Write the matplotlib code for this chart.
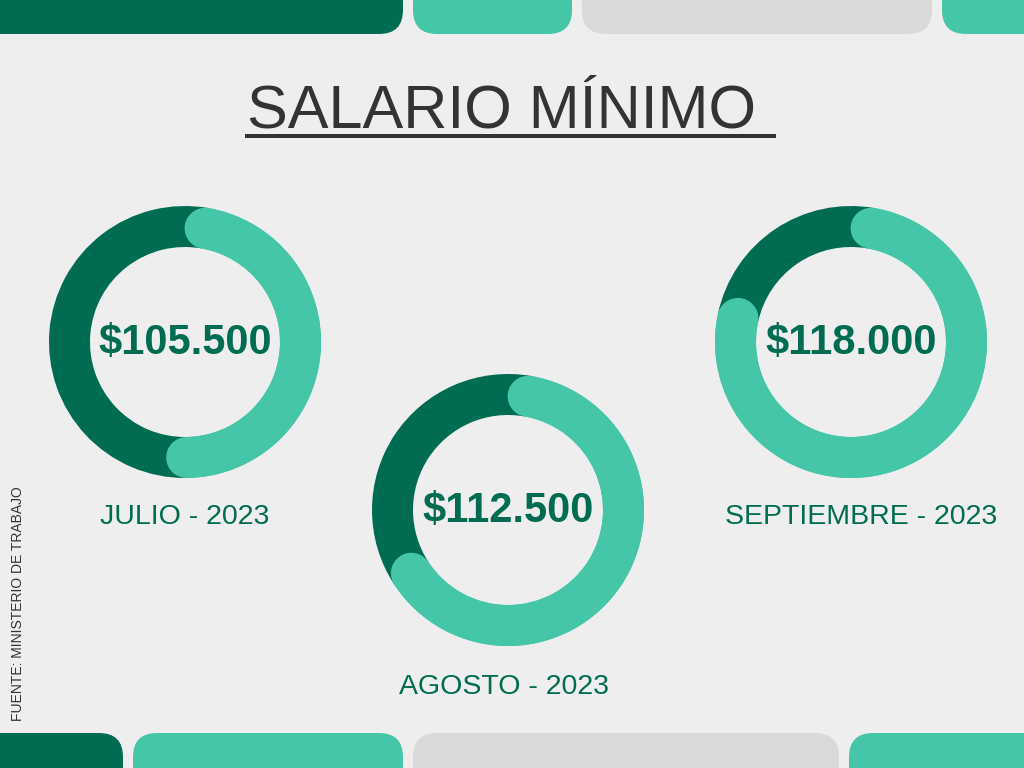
import numpy as np
import matplotlib.pyplot as plt
from matplotlib.patches import FancyBboxPatch, Rectangle

# data
months = ["JULIO - 2023", "AGOSTO - 2023", "SEPTIEMBRE - 2023"]
salaries = [105500, 112500, 118000]
shares = [0.47, 0.63, 0.755]   # share of the light ring (between cap centres)
source = "FUENTE: MINISTERIO DE TRABAJO"
title = "SALARIO MÍNIMO"

dark = "#006C52"
teal = "#45C6A9"
grey = "#D9D9D9"
bg = "#EEEEEE"
ink = "#333333"

W, H = 1024, 768
centers = [(185, 342), (508, 510), (851, 342)]
label_y = [524, 694, 524]
label_x = [185, 504, 861]
R, RW = 136, 41
start = 80

fig = plt.figure(figsize=(W / 100, H / 100), dpi=100, facecolor=bg)
ax = fig.add_axes([0, 0, 1, 1])
ax.set_xlim(0, W)
ax.set_ylim(H, 0)
ax.axis("off")

# decorative bars (top and bottom)
top_bars = [(-60, 403, dark), (413, 572, teal), (582, 932, grey), (942, 1100, teal)]
bottom_bars = [(-60, 123, dark), (133, 403, teal), (413, 839, grey), (849, 1100, teal)]
for x0, x1, c in top_bars:
    ax.add_patch(FancyBboxPatch((x0, -60), x1 - x0, 94, boxstyle="round,pad=0,rounding_size=24",
                                fc=c, ec="none"))
for x0, x1, c in bottom_bars:
    ax.add_patch(FancyBboxPatch((x0, 733), x1 - x0, 100, boxstyle="round,pad=0,rounding_size=24",
                                fc=c, ec="none"))

# title with underline
ax.text(247, 128, title, fontsize=44, color=ink, family="Liberation Sans",
        ha="left", va="baseline")
ax.add_patch(Rectangle((245, 134), 531, 4, fc=ink, ec="none"))

# source
ax.text(18, 604, source, fontsize=10, color=ink, family="Liberation Sans",
        rotation=90, ha="center", va="center")

for (cx, cy), lab, lx, ly, val, sh in zip(centers, months, label_x, label_y, salaries, shares):
    dax = fig.add_axes([(cx - 150) / W, (H - cy - 150) / H, 300 / W, 300 / H])
    dax.pie([sh, 1 - sh], colors=[teal, dark], startangle=start, counterclock=False,
            radius=R, wedgeprops=dict(width=RW, linewidth=0))
    th = np.radians(np.linspace(start, start - sh * 360, 300))
    rm = R - RW / 2
    dax.plot(rm * np.cos(th), rm * np.sin(th), color=teal, lw=RW * 0.72,
             solid_capstyle="round")
    dax.set_xlim(-150, 150)
    dax.set_ylim(-150, 150)
    dax.set_aspect("equal")
    dax.axis("off")
    txt = "$" + f"{val:,}".replace(",", ".")
    dax.text(0, -1, txt, fontsize=30, fontweight="bold", color=dark,
             family="Liberation Sans", ha="center", va="center")
    ax.text(lx, ly, lab, fontsize=20.5, color=dark, family="Liberation Sans",
            ha="center", va="baseline")

fig.savefig("out.png", dpi=100, facecolor=bg)
